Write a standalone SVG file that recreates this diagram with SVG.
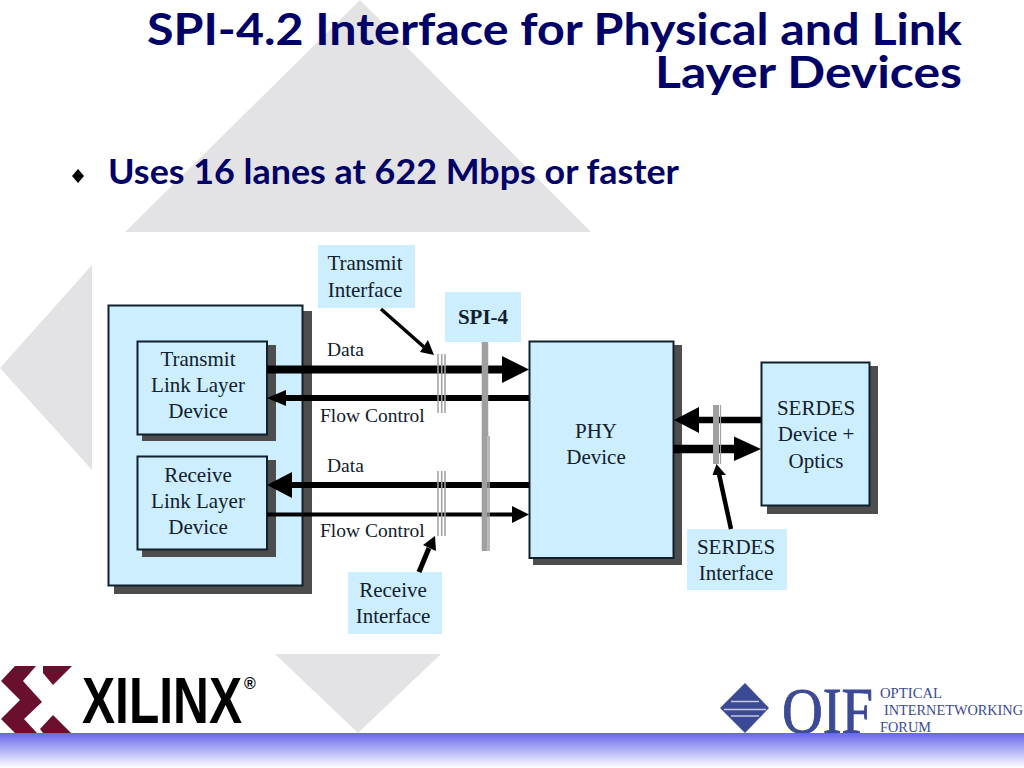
<svg xmlns="http://www.w3.org/2000/svg" width="1024" height="768" viewBox="0 0 1024 768">
<defs>
<linearGradient id="band" x1="0" y1="0" x2="0" y2="1"><stop offset="0" stop-color="#6666ee"/><stop offset="1" stop-color="#ffffff"/></linearGradient>
</defs>
<style>
.box{fill:#cceeff;stroke:#10202c;stroke-width:2}
.lab{fill:#cceeff}
.sh{fill:#4d4d4d}
.t{font-family:"Liberation Serif",serif;font-size:21px;fill:#10202c;text-anchor:middle}
.l{font-family:"Liberation Serif",serif;font-size:19.5px;fill:#10202c}
.h{font-family:"Lato","Open Sans",sans-serif;font-weight:700;fill:#000066}
.ln{stroke:#000;fill:none}
.tick{stroke:#a0a0a0;fill:none}
.ah{fill:#000}
.o{font-family:"Liberation Serif",serif;font-size:15.500px;fill:#3c4a96}
</style>
<rect width="1024" height="768" fill="#fff"/>
<g id="background" fill="#e3e3e6">
<polygon points="360,0 591,232 125,232"/>
<polygon points="0,368 92,265 92,470"/>
<polygon points="275,654 441,654 358,733"/>
</g>
<text class="h" x="962" y="45" font-size="44" text-anchor="end" textLength="815" lengthAdjust="spacingAndGlyphs">SPI-4.2 Interface for Physical and Link</text>
<text class="h" x="962" y="88" font-size="44" text-anchor="end" textLength="307" lengthAdjust="spacingAndGlyphs">Layer Devices</text>
<polygon points="78,169 84,176 78,183 72,176" fill="#000"/>
<text class="h" x="108" y="184" font-size="34" textLength="571" lengthAdjust="spacingAndGlyphs">Uses 16 lanes at 622 Mbps or faster</text>

<g id="host">
<rect class="sh" x="114" y="311" width="198" height="283"/>
<rect class="box" x="108.500" y="305.500" width="194" height="280"/>
</g>
<g id="tx-link">
<rect class="sh" x="142" y="345" width="134" height="96"/>
<rect class="box" x="137.500" y="341.500" width="129.500" height="93"/>
<text class="t" x="198" y="366">Transmit</text><text class="t" x="198" y="392">Link Layer</text><text class="t" x="198" y="418">Device</text>
</g>
<g id="rx-link">
<rect class="sh" x="142" y="460" width="134" height="97"/>
<rect class="box" x="137.500" y="456.500" width="129.500" height="93"/>
<text class="t" x="198" y="482">Receive</text><text class="t" x="198" y="508">Link Layer</text><text class="t" x="198" y="534">Device</text>
</g>
<g id="phy">
<rect class="sh" x="533" y="345" width="149" height="220"/>
<rect class="box" x="529.500" y="341.500" width="144" height="216.500"/>
<text class="t" x="596" y="438">PHY</text><text class="t" x="596" y="464">Device</text>
</g>
<g id="serdes-device">
<rect class="sh" x="767" y="366" width="111" height="148"/>
<rect class="box" x="761.500" y="362.500" width="108" height="143"/>
<text class="t" x="816" y="415">SERDES</text><text class="t" x="816" y="441">Device +</text><text class="t" x="816" y="468">Optics</text>
</g>
<g id="transmit-interface"><rect class="lab" x="318" y="245" width="97" height="63"/>
<text class="t" x="365" y="270">Transmit</text><text class="t" x="365" y="297">Interface</text></g>
<g id="spi-4"><rect class="lab" x="445" y="292" width="76" height="50"/>
<text class="t" x="483" y="324" font-weight="700">SPI-4</text></g>
<g id="receive-interface"><rect class="lab" x="348" y="572" width="94" height="62"/>
<text class="t" x="393" y="597">Receive</text><text class="t" x="393" y="623">Interface</text></g>
<g id="serdes-interface"><rect class="lab" x="687" y="529" width="100" height="61"/>
<text class="t" x="736" y="554">SERDES</text><text class="t" x="736" y="580">Interface</text></g>

<g id="connectors">
<path class="ln" stroke-width="8" d="M267 369.500H503"/><polygon class="ah" points="529,369.500 502,356 502,383"/>
<path class="ln" stroke-width="6" d="M529 398H284"/><polygon class="ah" points="267,398 286,390 286,406"/>
<path class="ln" stroke-width="6" d="M529 485H290"/><polygon class="ah" points="267,485 292,472 292,498"/>
<path class="ln" stroke-width="4" d="M267 514.500H514"/><polygon class="ah" points="529,514.500 512,506 512,523"/>
<path class="ln" stroke-width="6.500" d="M761 420H696"/><polygon class="ah" points="674,420 699,407 699,433"/>
<path class="ln" stroke-width="8.500" d="M673 449H736"/><polygon class="ah" points="761,449 734,436.500 734,461"/>
<path class="tick" stroke-width="1.500" d="M438 354V413M441.700 354V413M445 354V413M438 471V536M441.700 471V536M445 471V536"/>
<path class="tick" stroke-width="6" d="M484.700 342V551"/>
<path class="tick" stroke-width="1.500" d="M487.500 342V436M489 436V551"/>
<path class="tick" stroke-width="6" d="M716 405V464"/>
<path class="tick" stroke-width="1.200" d="M720.500 405V464"/>
<path class="ln" stroke-width="3.500" d="M381 309L424 347"/><polygon class="ah" points="434,355 420,352 428,340"/>
<path class="ln" stroke-width="5" d="M419 572L429 548"/><polygon class="ah" points="435,536 436,551 423,545"/>
<path class="ln" stroke-width="4.500" d="M731 529L719 474"/><polygon class="ah" points="716.500,464 726,475 712.500,475"/>
</g>
<g id="connector-labels">
<text class="l" x="327" y="356">Data</text>
<text class="l" x="320" y="422">Flow Control</text>
<text class="l" x="327" y="472">Data</text>
<text class="l" x="320" y="537">Flow Control</text>
</g>

<g id="xilinx-logo">
<polygon fill="#6b0f2f" points="1,681 15,666 36,666 23,681 42,702 24,719 37,733 15,733 1,719 20,700"/>
<polygon fill="#6b0f2f" points="43,666 72,666 53,685 43,673"/>
<polygon fill="#6b0f2f" points="53,715 71,733 43,733 40,729"/>
<text x="82" y="723" font-family="Liberation Sans,sans-serif" font-size="64" font-weight="700" fill="#000" textLength="160" lengthAdjust="spacingAndGlyphs">XILINX</text>
<text x="244" y="689" font-family="Liberation Sans,sans-serif" font-size="16" font-weight="700" fill="#000">®</text>
</g>
<g id="oif-logo">
<polygon fill="#3c4a96" points="745,683 769,708 745,733 720,708"/>
<path stroke="#c4c8e0" stroke-width="1.500" d="M731 701.500H759M724 709.500H766M731 716H759" fill="none"/>
<text x="782" y="733" font-family="Liberation Serif,serif" font-size="65" fill="#3c4a96" stroke="#3c4a96" stroke-width="0.900" textLength="91" lengthAdjust="spacingAndGlyphs">OIF</text>
<text class="o" x="880" y="698" textLength="62" lengthAdjust="spacingAndGlyphs">OPTICAL</text>
<text class="o" x="884" y="715" textLength="139" lengthAdjust="spacingAndGlyphs">INTERNETWORKING</text>
<text class="o" x="880" y="732" textLength="51" lengthAdjust="spacingAndGlyphs">FORUM</text>
</g>
<rect id="footer-band" x="0" y="733" width="1024" height="35" fill="url(#band)"/>
</svg>
